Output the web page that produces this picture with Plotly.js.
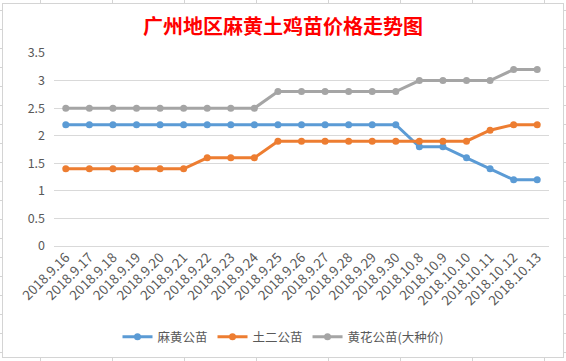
<!DOCTYPE html>
<html>
<head>
<meta charset="utf-8">
<script src="https://cdn.plot.ly/plotly-3.0.1.min.js"></script>
<style>
  html, body { margin: 0; padding: 0; width: 566px; height: 361px; overflow: hidden; }
  body {
    background-color: #ffffff;
    background-image:
      linear-gradient(to right, #d4d4d4 1px, transparent 1px),
      linear-gradient(to bottom, #d4d4d4 1px, transparent 1px);
    background-size: 72px 100%, 100% 19px;
    background-position: 40px 0, 0 10px;
    position: relative;
  }
  #frame { position: absolute; left: 2px; top: 3px; width: 560px; height: 353px; background: #fff; border: 1px solid #d4d4d4; }
  #chart { position: absolute; left: 0; top: 0; width: 566px; height: 361px; }
</style>
</head>
<body>
<div id="frame"></div>
<div id="chart"></div>
<script>
const categories = ["2018.9.16","2018.9.17","2018.9.18","2018.9.19","2018.9.20","2018.9.21","2018.9.22","2018.9.23","2018.9.24","2018.9.25","2018.9.26","2018.9.27","2018.9.28","2018.9.29","2018.9.30","2018.10.8","2018.10.9","2018.10.10","2018.10.11","2018.10.12","2018.10.13"];
const mahuang = [2.2,2.2,2.2,2.2,2.2,2.2,2.2,2.2,2.2,2.2,2.2,2.2,2.2,2.2,2.2,1.8,1.8,1.6,1.4,1.2,1.2];
const tuer    = [1.4,1.4,1.4,1.4,1.4,1.4,1.6,1.6,1.6,1.9,1.9,1.9,1.9,1.9,1.9,1.9,1.9,1.9,2.1,2.2,2.2];
const huanghua= [2.5,2.5,2.5,2.5,2.5,2.5,2.5,2.5,2.5,2.8,2.8,2.8,2.8,2.8,2.8,3.0,3.0,3.0,3.0,3.2,3.2];
const seriesNames = ["麻黄公苗","土二公苗","黄花公苗(大种价)"];
const yTicks = [0,0.5,1,1.5,2,2.5,3,3.5];
const yTickText = ["0","0.5","1","1.5","2","2.5","3","3.5"];

const colors = ["#5B9BD5","#ED7D31","#A5A5A5"];
const font = "'Noto Sans CJK SC', 'Noto Sans', sans-serif";
const data = [mahuang, tuer, huanghua].map((vals, i) => ({
  type: "scatter",
  mode: "lines+markers",
  x: categories,
  y: vals,
  name: seriesNames[i],
  line: { color: colors[i], width: 3 },
  marker: { color: colors[i], size: 7 },
  hoverinfo: "skip"
}));

const layout = {
  width: 566, height: 361,
  paper_bgcolor: "rgba(0,0,0,0)",
  plot_bgcolor: "rgba(0,0,0,0)",
  margin: { l: 54, r: 17, t: 53, b: 115 },
  title: {
    text: "广州地区麻黄土鸡苗价格走势图",
    font: { family: font, size: 20, color: "#FF0000", weight: "bold" },
    x: 0.5, xref: "container", xanchor: "center",
    y: 1 - 27/361, yref: "container", yanchor: "middle"
  },
  xaxis: {
    type: "category",
    range: [-0.5, categories.length - 0.5],
    tickangle: -45,
    tickfont: { family: font, size: 13.5, color: "#595959" },
    showgrid: false,
    showline: false,
    zeroline: false,
    ticks: "",
    fixedrange: true
  },
  yaxis: {
    range: [0, 3.5],
    tickvals: yTicks,
    ticktext: yTickText,
    tickfont: { family: font, size: 12.5, color: "#595959" },
    gridcolor: "#D9D9D9",
    gridwidth: 1,
    zeroline: true,
    zerolinecolor: "#D9D9D9",
    zerolinewidth: 1,
    showline: false,
    ticks: "",
    ticklabelstandoff: 8,
    fixedrange: true
  },
  legend: {
    orientation: "h",
    xref: "container", yref: "container",
    x: 0.5, xanchor: "center",
    y: 1 - 337/361, yanchor: "middle",
    font: { family: font, size: 12.5, color: "#595959" },
    itemwidth: 30,
    bgcolor: "rgba(0,0,0,0)"
  },
  showlegend: true
};

Plotly.newPlot("chart", data, layout, { displayModeBar: false, staticPlot: true });
</script>
</body>
</html>
